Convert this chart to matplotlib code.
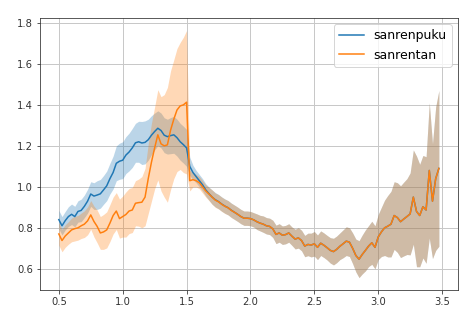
import numpy as np
import matplotlib
matplotlib.use("Agg")
import matplotlib.pyplot as plt

# odds ratio on a 0.025 grid from 0.5 to 3.475
x = np.round(np.arange(120) * 0.025 + 0.5, 3)

sanrenpuku_mean = [
    0.840, 0.810, 0.835, 0.855, 0.866, 0.855, 0.880, 0.885, 0.905, 0.930,
    0.965, 0.955, 0.960, 0.966, 0.985, 1.005, 1.040, 1.070, 1.115, 1.125,
    1.130, 1.155, 1.170, 1.190, 1.215, 1.220, 1.214, 1.217, 1.230, 1.252,
    1.270, 1.286, 1.275, 1.252, 1.245, 1.250, 1.254, 1.240, 1.220, 1.206,
    1.190, 1.100, 1.070, 1.050, 1.030, 1.010, 0.985, 0.967, 0.950, 0.937,
    0.928, 0.916, 0.906, 0.898, 0.886, 0.876, 0.866, 0.855, 0.847, 0.847,
    0.845, 0.839, 0.830, 0.823, 0.818, 0.810, 0.807, 0.795, 0.768, 0.775,
    0.764, 0.767, 0.775, 0.759, 0.745, 0.751, 0.738, 0.711, 0.719, 0.716,
    0.722, 0.705, 0.725, 0.715, 0.703, 0.690, 0.684, 0.695, 0.710, 0.722,
    0.735, 0.730, 0.700, 0.665, 0.647, 0.670, 0.690, 0.711, 0.727, 0.705,
    0.755, 0.780, 0.800, 0.808, 0.818, 0.860, 0.850, 0.830, 0.843, 0.855,
    0.868, 0.950, 0.880, 0.860, 0.903, 0.887, 1.080, 0.930, 1.040, 1.090,
]
sanrenpuku_ci = [
    0.045, 0.045, 0.045, 0.048, 0.050, 0.050, 0.052, 0.055, 0.055, 0.058,
    0.060, 0.065, 0.070, 0.070, 0.070, 0.072, 0.075, 0.080, 0.085, 0.088,
    0.090, 0.090, 0.092, 0.095, 0.095, 0.100, 0.105, 0.105, 0.100, 0.095,
    0.090, 0.085, 0.085, 0.085, 0.085, 0.088, 0.090, 0.090, 0.090, 0.090,
    0.090, 0.045, 0.035, 0.030, 0.030, 0.030, 0.030, 0.032, 0.035, 0.035,
    0.035, 0.035, 0.035, 0.035, 0.035, 0.035, 0.035, 0.035, 0.035, 0.035,
    0.035, 0.035, 0.038, 0.038, 0.040, 0.040, 0.040, 0.042, 0.045, 0.045,
    0.045, 0.045, 0.045, 0.045, 0.048, 0.050, 0.050, 0.052, 0.055, 0.058,
    0.060, 0.060, 0.060, 0.060, 0.060, 0.062, 0.065, 0.065, 0.065, 0.068,
    0.070, 0.070, 0.075, 0.080, 0.090, 0.095, 0.100, 0.100, 0.105, 0.105,
    0.110, 0.120, 0.135, 0.150, 0.160, 0.165, 0.170, 0.175, 0.180, 0.185,
    0.200, 0.230, 0.270, 0.250, 0.250, 0.260, 0.330, 0.280, 0.350, 0.380,
]

sanrentan_mean = [
    0.770, 0.738, 0.760, 0.775, 0.790, 0.796, 0.800, 0.810, 0.818, 0.834,
    0.863, 0.831, 0.807, 0.775, 0.780, 0.790, 0.823, 0.860, 0.882, 0.845,
    0.855, 0.865, 0.882, 0.887, 0.920, 0.923, 0.925, 0.950, 1.040, 1.120,
    1.190, 1.254, 1.210, 1.200, 1.205, 1.277, 1.330, 1.375, 1.395, 1.400,
    1.413, 1.030, 1.035, 1.030, 1.020, 1.000, 0.980, 0.965, 0.950, 0.935,
    0.927, 0.915, 0.905, 0.898, 0.885, 0.876, 0.866, 0.855, 0.847, 0.847,
    0.845, 0.839, 0.830, 0.823, 0.818, 0.810, 0.807, 0.795, 0.768, 0.775,
    0.764, 0.767, 0.775, 0.759, 0.745, 0.751, 0.738, 0.711, 0.719, 0.716,
    0.722, 0.705, 0.725, 0.715, 0.703, 0.690, 0.684, 0.695, 0.710, 0.722,
    0.735, 0.730, 0.700, 0.665, 0.647, 0.670, 0.690, 0.711, 0.727, 0.705,
    0.755, 0.780, 0.800, 0.808, 0.818, 0.860, 0.850, 0.830, 0.843, 0.855,
    0.868, 0.950, 0.880, 0.860, 0.903, 0.887, 1.080, 0.930, 1.040, 1.090,
]
sanrentan_ci = [
    0.055, 0.055, 0.055, 0.055, 0.058, 0.060, 0.060, 0.062, 0.065, 0.068,
    0.070, 0.075, 0.080, 0.080, 0.085, 0.088, 0.090, 0.090, 0.090, 0.095,
    0.100, 0.110, 0.110, 0.110, 0.110, 0.115, 0.125, 0.140, 0.170, 0.190,
    0.200, 0.220, 0.230, 0.250, 0.280, 0.290, 0.290, 0.300, 0.310, 0.330,
    0.350, 0.050, 0.035, 0.030, 0.030, 0.030, 0.030, 0.032, 0.035, 0.035,
    0.035, 0.035, 0.035, 0.035, 0.035, 0.035, 0.035, 0.035, 0.035, 0.035,
    0.035, 0.035, 0.038, 0.038, 0.040, 0.040, 0.040, 0.042, 0.045, 0.045,
    0.045, 0.045, 0.045, 0.045, 0.048, 0.050, 0.050, 0.052, 0.055, 0.058,
    0.060, 0.060, 0.060, 0.060, 0.060, 0.062, 0.065, 0.065, 0.065, 0.068,
    0.070, 0.070, 0.075, 0.080, 0.090, 0.095, 0.100, 0.100, 0.105, 0.105,
    0.110, 0.120, 0.135, 0.150, 0.160, 0.165, 0.170, 0.175, 0.180, 0.185,
    0.200, 0.230, 0.270, 0.250, 0.250, 0.260, 0.330, 0.280, 0.350, 0.380,
]

series = [
    ("sanrenpuku", sanrenpuku_mean, sanrenpuku_ci, "C0"),
    ("sanrentan", sanrentan_mean, sanrentan_ci, "C1"),
]

fig = plt.figure(figsize=(474 / 72, 324 / 72), dpi=72)
ax = fig.add_axes([0.084, 0.105, 0.882, 0.839])

for label, mean, ci, color in series:
    mean = np.asarray(mean)
    ci = np.asarray(ci)
    ax.plot(x, mean, color=color, lw=1.5, label=label)
    ax.fill_between(x, mean - ci, mean + ci, color=color, alpha=0.3, lw=0)

ax.set_xticks([0.5, 1.0, 1.5, 2.0, 2.5, 3.0, 3.5])
ax.set_yticks([0.6, 0.8, 1.0, 1.2, 1.4, 1.6, 1.8])
ax.grid(True, color="#c8c8c8", lw=1)
ax.set_axisbelow(True)
ax.tick_params(labelsize=10, colors="#333333")
for s in ax.spines.values():
    s.set_color("#333333")
ax.legend(loc="upper right", fontsize=12.5)

fig.savefig("out.png", dpi=72)
